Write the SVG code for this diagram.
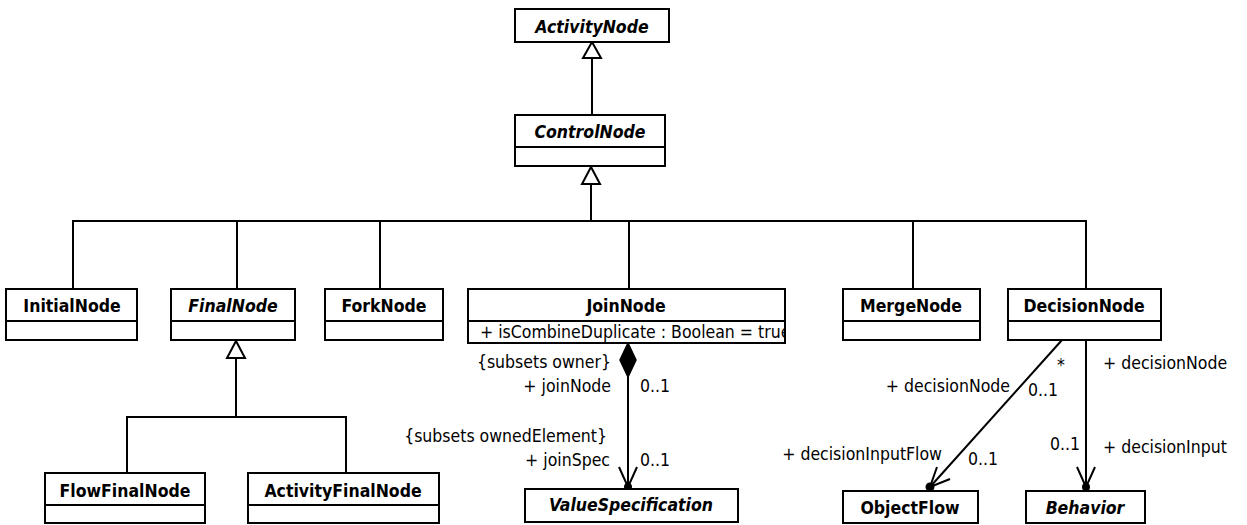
<svg xmlns="http://www.w3.org/2000/svg" width="1247" height="525" viewBox="0 0 1247 525">
<defs>
<style>
.box{fill:#fff;stroke:#000;stroke-width:2}
.ln{fill:none;stroke:#000;stroke-width:2}
.tri{fill:#fff;stroke:#000;stroke-width:2}
.nm{font-family:"DejaVu Sans Condensed","DejaVu Sans",Verdana,sans-serif;font-stretch:condensed;font-size:17.5px;font-weight:bold;text-anchor:middle;fill:#000}
.ab{font-style:italic}
.lb{font-family:"DejaVu Sans Condensed","DejaVu Sans",Verdana,sans-serif;font-stretch:condensed;font-size:17.5px;fill:#000}
.r{text-anchor:end}
</style>
<clipPath id="jclip"><rect x="469" y="322" width="315" height="20"/></clipPath>
</defs>
<g id="connectors">
<line class="ln" x1="592" y1="58" x2="592" y2="115"/>
<polygon class="tri" points="592,42 583,58 601,58"/>
<line class="ln" x1="591" y1="184" x2="591" y2="221"/>
<polygon class="tri" points="591,167 582,184 600,184"/>
<polyline class="ln" points="73,289 73,221 1086,221 1086,289"/>
<line class="ln" x1="237" y1="221" x2="237" y2="289"/>
<line class="ln" x1="380" y1="221" x2="380" y2="289"/>
<line class="ln" x1="629" y1="221" x2="629" y2="289"/>
<line class="ln" x1="913" y1="221" x2="913" y2="289"/>
<line class="ln" x1="236" y1="358" x2="236" y2="417"/>
<polygon class="tri" points="236,341 227,358 245,358"/>
<polyline class="ln" points="127,473 127,417 346,417 346,473"/>
<polygon points="628,343 636,360 628,377 620,360" fill="#000" stroke="#000" stroke-width="1.5"/>
<line class="ln" x1="628" y1="377" x2="628" y2="487"/>
<polyline class="ln" points="619,467 628,487 637,467"/>
<circle cx="628" cy="487" r="4" fill="#000"/>
<line class="ln" x1="1062" y1="340" x2="930" y2="487"/>
<polyline class="ln" points="950,479 930,487 937,467"/>
<circle cx="930" cy="487" r="4.5" fill="#000"/>
<line class="ln" x1="1086" y1="341" x2="1086" y2="487"/>
<polyline class="ln" points="1077,467 1086,487 1095,467"/>
<circle cx="1086" cy="487" r="4" fill="#000"/>
<text class="lb r" x="611" y="368">{subsets owner}</text>
<text class="lb r" x="611" y="392">+ joinNode</text>
<text class="lb" x="640" y="392">0..1</text>
<text class="lb r" x="607" y="442">{subsets ownedElement}</text>
<text class="lb r" x="610" y="466">+ joinSpec</text>
<text class="lb" x="640" y="466">0..1</text>
<text class="lb" x="1057" y="371">*</text>
<text class="lb r" x="1010" y="392">+ decisionNode</text>
<text class="lb" x="1028" y="396">0..1</text>
<text class="lb r" x="942" y="460">+ decisionInputFlow</text>
<text class="lb" x="968" y="465">0..1</text>
<text class="lb" x="1103" y="369">+ decisionNode</text>
<text class="lb r" x="1080" y="450">0..1</text>
<text class="lb" x="1103" y="453">+ decisionInput</text>
</g>
<g id="ActivityNode">
<rect class="box" x="515" y="9" width="154" height="33"/>
<text class="nm ab" x="592" y="33">ActivityNode</text>
</g>
<g id="ControlNode">
<rect class="box" x="515" y="115" width="150" height="51"/>
<line class="ln" x1="515" y1="147" x2="665" y2="147"/>
<text class="nm ab" x="590" y="138">ControlNode</text>
</g>
<g id="InitialNode">
<rect class="box" x="6" y="289" width="131" height="51"/>
<line class="ln" x1="6" y1="321" x2="137" y2="321"/>
<text class="nm" x="72" y="312">InitialNode</text>
</g>
<g id="FinalNode">
<rect class="box" x="171" y="289" width="124" height="51"/>
<line class="ln" x1="171" y1="321" x2="295" y2="321"/>
<text class="nm ab" x="233" y="312">FinalNode</text>
</g>
<g id="ForkNode">
<rect class="box" x="325" y="289" width="118" height="51"/>
<line class="ln" x1="325" y1="321" x2="443" y2="321"/>
<text class="nm" x="384" y="312">ForkNode</text>
</g>
<g id="JoinNode">
<rect class="box" x="468" y="289" width="317" height="54"/>
<line class="ln" x1="468" y1="321" x2="785" y2="321"/>
<text class="nm" x="626" y="312">JoinNode</text>
<text class="lb" x="480" y="338" clip-path="url(#jclip)">+ isCombineDuplicate : Boolean = true</text>
</g>
<g id="MergeNode">
<rect class="box" x="843" y="289" width="137" height="51"/>
<line class="ln" x1="843" y1="321" x2="980" y2="321"/>
<text class="nm" x="911" y="312">MergeNode</text>
</g>
<g id="DecisionNode">
<rect class="box" x="1008" y="289" width="153" height="51"/>
<line class="ln" x1="1008" y1="321" x2="1161" y2="321"/>
<text class="nm" x="1084" y="312">DecisionNode</text>
</g>
<g id="FlowFinalNode">
<rect class="box" x="45" y="473" width="160" height="50"/>
<line class="ln" x1="45" y1="505" x2="205" y2="505"/>
<text class="nm" x="125" y="497">FlowFinalNode</text>
</g>
<g id="ActivityFinalNode">
<rect class="box" x="248" y="473" width="191" height="50"/>
<line class="ln" x1="248" y1="505" x2="439" y2="505"/>
<text class="nm" x="343" y="497">ActivityFinalNode</text>
</g>
<g id="ValueSpecification">
<rect class="box" x="525" y="489" width="213" height="33"/>
<text class="nm ab" x="631" y="511">ValueSpecification</text>
</g>
<g id="ObjectFlow">
<rect class="box" x="843" y="491" width="135" height="32"/>
<text class="nm" x="910" y="514">ObjectFlow</text>
</g>
<g id="Behavior">
<rect class="box" x="1026" y="491" width="119" height="32"/>
<text class="nm ab" x="1085" y="514">Behavior</text>
</g>
</svg>
